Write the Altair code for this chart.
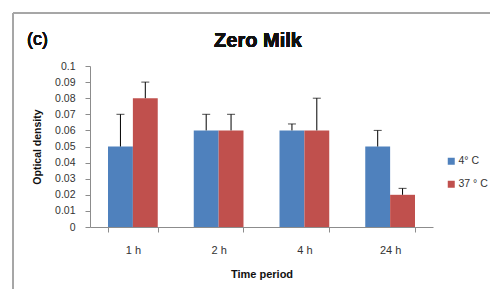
import altair as alt
import pandas as pd

periods = ["1 h", "2 h", "4 h", "24 h"]
series = ["4° C", "37 ° C"]
cold_values = [0.05, 0.06, 0.06, 0.05]
warm_values = [0.08, 0.06, 0.06, 0.02]
cold_upper = [0.07, 0.07, 0.064, 0.06]
warm_upper = [0.09, 0.07, 0.08, 0.024]
y_ticks = [0, 0.01, 0.02, 0.03, 0.04, 0.05, 0.06, 0.07, 0.08, 0.09, 0.1]
colors = ["#4F81BD", "#C0504D"]

rows = []
for i, p in enumerate(periods):
    rows.append({"period": p, "series": series[0], "value": cold_values[i], "upper": cold_upper[i]})
    rows.append({"period": p, "series": series[1], "value": warm_values[i], "upper": warm_upper[i]})
df = pd.DataFrame(rows)

FONT = "Liberation Sans"
AXIS_GREY = "#8c8c8c"

x_scale = alt.Scale(domain=periods, paddingInner=0.42, paddingOuter=0.21)
y_scale = alt.Scale(domain=[0, 0.1], nice=False)
x_axis = alt.Axis(title="Time period", labelAngle=0, tickBand="extent",
                  tickSize=5, labelPadding=12, titlePadding=13,
                  domainColor=AXIS_GREY, tickColor=AXIS_GREY,
                  labelFontSize=11, labelColor="#333333", labelFont=FONT,
                  titleFont=FONT, titleFontSize=11, titleFontWeight="bold", titleColor="#111111")
y_axis = alt.Axis(title="Optical density", values=y_ticks, format="~g", grid=False,
                  labelOverlap=False, labelFlush=False,
                  tickSize=5, labelPadding=10, titlePadding=12,
                  domainColor=AXIS_GREY, tickColor=AXIS_GREY,
                  labelFontSize=10.5, labelColor="#333333", labelFont=FONT,
                  titleFont=FONT, titleFontSize=10.5, titleFontWeight="bold", titleColor="#111111")

x_enc = alt.X("period:N", sort=periods, scale=x_scale, axis=x_axis)
xoff = alt.XOffset("series:N", sort=series, scale=alt.Scale(domain=series, paddingInner=0, paddingOuter=0))

bars = alt.Chart(df).mark_bar().encode(
    x=x_enc, xOffset=xoff,
    y=alt.Y("value:Q", scale=y_scale, axis=y_axis),
    color=alt.Color("series:N", sort=series, scale=alt.Scale(domain=series, range=colors),
                    legend=alt.Legend(title=None, orient="none", legendX=356, legendY=90,
                                      symbolType="square", symbolSize=49, symbolStrokeWidth=0,
                                      labelFontSize=10.5, labelFont=FONT, labelColor="#333333",
                                      rowPadding=12, labelOffset=2, labelLimit=0)),
)

err = alt.Chart(df).mark_rule(color="black", strokeWidth=1).encode(
    x=x_enc, xOffset=xoff,
    y=alt.Y("value:Q", scale=y_scale, axis=y_axis), y2="upper:Q")
caps = alt.Chart(df).mark_tick(color="black", thickness=1, size=8).encode(
    x=x_enc, xOffset=xoff, y=alt.Y("upper:Q", scale=y_scale, axis=y_axis))

title_txt = alt.Chart(df).mark_text(text="Zero Milk", fontSize=20, fontWeight="bold", font=FONT,
                                    align="center", baseline="middle", color="#111111").encode(
    x=alt.value(168), y=alt.value(-25))
label_c = alt.Chart(df).mark_text(text="(c)", fontSize=18, font=FONT, align="left",
                                  baseline="middle", color="#111111").encode(
    x=alt.value(-63), y=alt.value(-26))
frame_top = alt.Chart(df).mark_rule(color="#a6a6a6", strokeWidth=1).encode(
    x=alt.value(-77), x2=alt.value(410), y=alt.value(-53))
frame_left = alt.Chart(df).mark_rule(color="#a6a6a6", strokeWidth=1).encode(
    x=alt.value(-77), y=alt.value(-53), y2=alt.value(240))

chart = alt.layer(frame_top, frame_left, title_txt, label_c, bars, err, caps).properties(
    width=343, height=161,
    autosize=alt.AutoSizeParams(type="none"),
    padding={"left": 82, "top": 58, "right": 57, "bottom": 62},
).configure_view(stroke=None)

chart.save("out.html", embed_options={"renderer": "svg", "actions": False})
